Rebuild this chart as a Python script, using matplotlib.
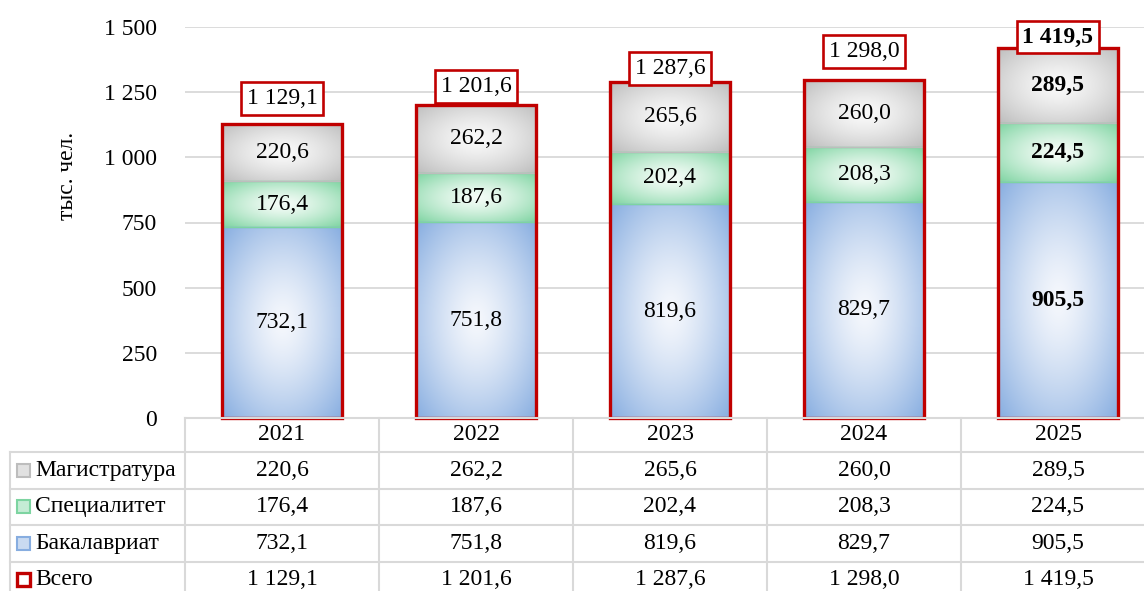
import numpy as np
import matplotlib
matplotlib.use('Agg')
import matplotlib.pyplot as plt
from matplotlib.patches import Rectangle

plt.rcParams['font.family'] = ['Liberation Serif', 'DejaVu Serif']

years = ['2021', '2022', '2023', '2024', '2025']
bachelor = [732.1, 751.8, 819.6, 829.7, 905.5]
specialist = [176.4, 187.6, 202.4, 208.3, 224.5]
master = [220.6, 262.2, 265.6, 260.0, 289.5]
total = [1129.1, 1201.6, 1287.6, 1298.0, 1419.5]
series_names = ['Магистратура', 'Специалитет', 'Бакалавриат', 'Всего']

# pixel offsets of the boxed totals above the bars (manually placed in the original)
total_dy = [25, 18, 14, 28, 11]

RED = '#c00000'
GRID = '#d9d9d9'
# (edge colour, centre colour) of each gradient fill
blue = ((0.53, 0.68, 0.88), (0.96, 0.97, 0.99))
green = ((0.49, 0.83, 0.63), (0.96, 0.99, 0.97))
gray = ((0.74, 0.74, 0.74), (0.98, 0.98, 0.98))


def fmt(v, dec=1):
    s = f'{v:,.{dec}f}'
    return s.replace(',', ' ').replace('.', ',')


def grad_img(cols, n=80):
    edge, centre = np.array(cols[0]), np.array(cols[1])
    u = np.linspace(-1, 1, n)
    U, V = np.meshgrid(u, u)
    t = np.sqrt((U ** 2 + V ** 2) / 2) ** 1.35
    return centre + (edge - centre) * t[..., None]


fig = plt.figure(figsize=(11.44, 5.91), dpi=100)
W, H = 1144, 591
ax = fig.add_axes([185 / W, (H - 418) / H, 970 / W, 391 / H])

x = np.arange(len(years))
bw = 0.62
for i in range(len(years)):
    bottom = 0
    bold = 'bold' if i == len(years) - 1 else 'normal'
    for vals, cols in ((bachelor, blue), (specialist, green), (master, gray)):
        v = vals[i]
        ax.imshow(grad_img(cols), extent=(x[i] - bw / 2, x[i] + bw / 2, bottom, bottom + v),
                  aspect='auto', interpolation='bilinear', zorder=2)
        ax.add_patch(Rectangle((x[i] - bw / 2, bottom), bw, v, fill=False,
                               ec=cols[0], lw=1, zorder=2.5))
        ax.text(x[i], bottom + v / 2, fmt(v), ha='center', va='center',
                fontsize=17, fontweight=bold, zorder=4)
        bottom += v
    ax.add_patch(Rectangle((x[i] - bw / 2, 0), bw, total[i], fill=False,
                           ec=RED, lw=2.4, zorder=3, clip_on=False))
    ax.annotate(fmt(total[i]), (x[i], total[i]), xytext=(0, total_dy[i]),
                textcoords='offset pixels', ha='center', va='center',
                fontsize=17, fontweight=bold, zorder=5, annotation_clip=False,
                bbox=dict(boxstyle='square,pad=0.25', fc='white', ec=RED, lw=1.9))

ax.set_xlim(-0.5, len(years) - 0.5)
ax.set_ylim(0, 1500)
ax.set_yticks(np.arange(0, 1501, 250))
ax.set_yticklabels([fmt(v, 0) for v in np.arange(0, 1501, 250)])
ax.tick_params(axis='y', length=0, pad=20, labelsize=17)
ax.set_xticks([])
ax.yaxis.grid(True, color=GRID, lw=1.3, zorder=0)
ax.set_axisbelow(True)
for s in ax.spines.values():
    s.set_visible(False)
ax.set_ylabel('тыс. чел.', fontsize=17)
ax.yaxis.set_label_coords(-0.11, 0.62)

# data table under the chart
tax = fig.add_axes([185 / W, 0, 970 / W, (H - 418) / H])
rh = 36.5
tax.set_xlim(-0.5, len(years) - 0.5)
tax.set_ylim((H - 418) / rh, 0)
tax.axis('off')
hdr = 34 / rh
xl = -0.5 - 175 / 194
lkw = dict(color=GRID, lw=1.5, clip_on=False)
tax.plot([-0.5, len(years) - 0.5], [0, 0], **lkw)
for k in range(len(years) + 1):
    tax.plot([k - 0.5, k - 0.5], [0, 10], **lkw)
tax.plot([xl, xl], [hdr, 10], **lkw)
for r in range(4):
    tax.plot([xl, len(years) - 0.5], [hdr + r, hdr + r], **lkw)

for i, y in enumerate(years):
    tax.text(i, hdr / 2, y, ha='center', va='center', fontsize=17)

rows = [master, specialist, bachelor, total]
marks = [gray, green, blue, None]
for r, (name, vals, mk) in enumerate(zip(series_names, rows, marks)):
    yc = hdr + r + 0.5
    ms = 13 / 194
    mh = 13 / rh
    mx = xl + 7 / 194
    if mk is None:
        tax.add_patch(Rectangle((mx, yc - mh / 2), ms, mh, fc='white', ec=RED,
                                lw=2.4, clip_on=False))
    else:
        mid = tuple(0.6 * np.array(mk[1]) + 0.4 * np.array(mk[0]))
        tax.add_patch(Rectangle((mx, yc - mh / 2), ms, mh, fc=mid, ec=mk[0],
                                lw=1.5, clip_on=False))
    tax.text(xl + 25 / 194, yc, name, ha='left', va='center', fontsize=17, clip_on=False)
    for i, v in enumerate(vals):
        tax.text(i, yc, fmt(v), ha='center', va='center', fontsize=17)

fig.savefig('out.png', dpi=100)
